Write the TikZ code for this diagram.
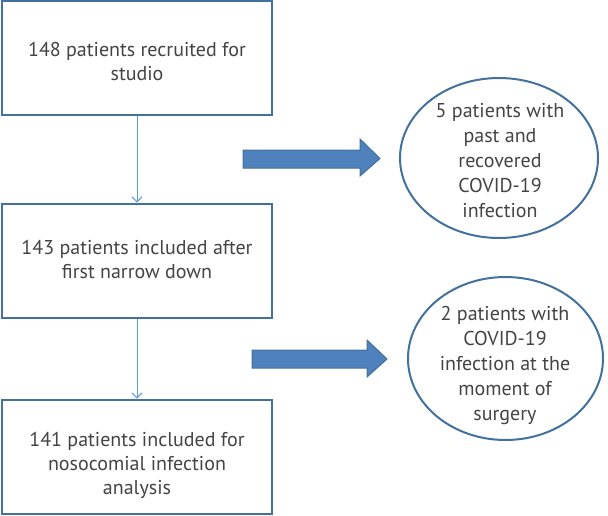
\documentclass[tikz,border=0pt]{standalone}
\usepackage{fontspec}
\setmainfont{PT Sans}
\usetikzlibrary{arrows.meta,shapes.geometric}
\definecolor{boxline}{HTML}{41719C}
\definecolor{arrowfill}{HTML}{4F81BD}
\definecolor{connline}{HTML}{5B9BD5}
\definecolor{txt}{HTML}{444444}
\begin{document}
\begin{tikzpicture}[x=1pt,y=-1pt,
  every node/.style={font=\fontsize{20}{24}\selectfont, text=txt},
  flowbox/.style={draw=boxline, line width=2pt, fill=white, minimum width=270pt, minimum height=114pt, inner sep=0pt},
  boxtext/.style={align=center, inner sep=0pt},
  ovaltext/.style={align=center, font=\fontsize{20}{25}\selectfont},
  oval/.style={draw=boxline, line width=2pt, fill=white},
  conn/.style={draw=connline, line width=0.9pt, -{Straight Barb[length=5pt,width=10pt]}},
  blockarrow/.style={fill=arrowfill, draw=boxline, line width=1pt, line join=miter}
]
\useasboundingbox (0,0) rectangle (608,515);
\node[flowbox] (b1) at (137,58) {};
\node[flowbox] (b2) at (137,260.5) {};
\node[flowbox] (b3) at (137,456.5) {};
\node[boxtext] (t1) at (137,61) {148 patients recruited for\\studio};
\node[boxtext] (t2) at (137,259.5) {143 patients included after\\first narrow down};
\node[boxtext] (t3) at (137,465.5) {141 patients included for\\nosocomial infection\\analysis};
\draw[conn] (b1.south) -- (b2.north);
\draw[conn] (b2.south) -- (b3.north);
\draw[oval] (499,158) ellipse [x radius=99, y radius=80];
\node[ovaltext] (e1) at (500,161) {5 patients with\\past and\\recovered\\COVID-19\\infection};
\draw[oval] (505.5,358.5) ellipse [x radius=97.5, y radius=81.5];
\node[ovaltext] (e2) at (505,365) {2 patients with\\COVID-19\\infection at the\\moment of\\surgery};
\draw[blockarrow] (243,150) -- (360,150) -- (360,139) -- (380,158.5) -- (360,176) -- (360,168) -- (243,168) -- cycle;
\draw[blockarrow] (252,350) -- (367,350) -- (367,340) -- (387,359) -- (367,377) -- (367,368) -- (252,368) -- cycle;
\end{tikzpicture}
\end{document}
